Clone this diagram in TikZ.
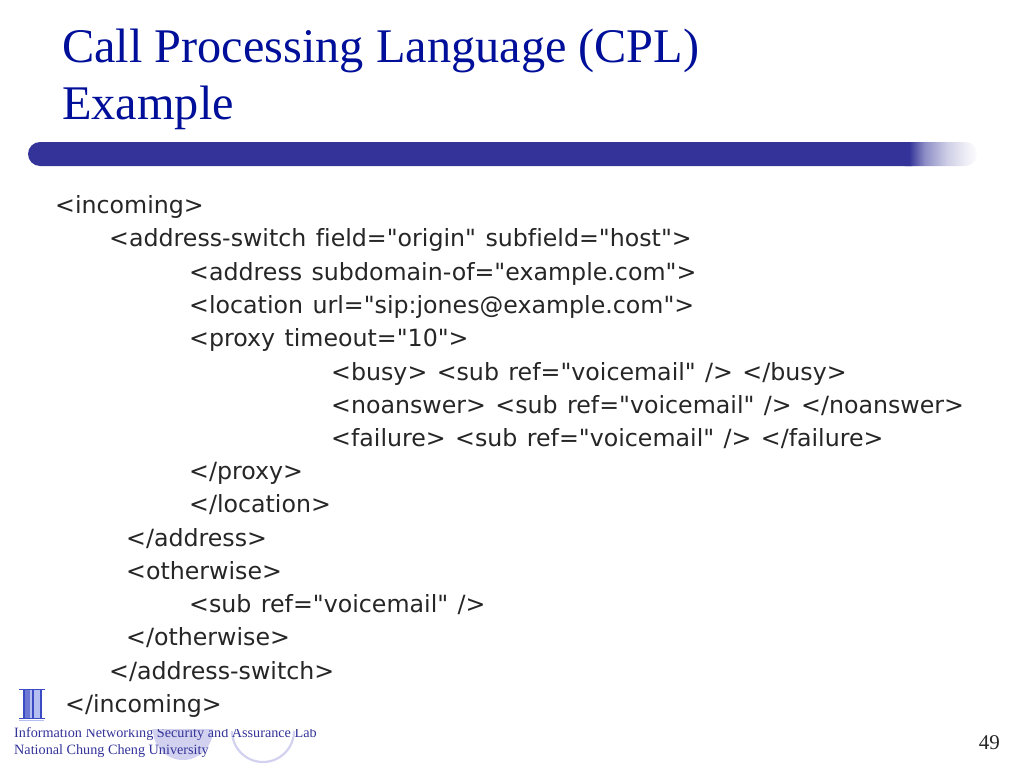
\documentclass[tikz,border=0pt]{standalone}
\usepackage{fontspec}
\setmainfont{Liberation Serif}
\newfontfamily\bodyfont[WordSpace=1.25,Ligatures=NoCommon]{DejaVu Sans}
\definecolor{titleblue}{HTML}{000F99}
\definecolor{barblue}{HTML}{333399}
\definecolor{bodygray}{HTML}{262626}
\definecolor{ringblue}{HTML}{D2D2F0}
\definecolor{logoblue}{HTML}{3B4BC4}
\definecolor{logolight}{HTML}{B4BEF0}
\pgfdeclarehorizontalshading{barfadeshade}{100bp}{
  color(0bp)=(barblue);
  color(37bp)=(barblue);
  color(45bp)=(barblue!55);
  color(56bp)=(barblue!24);
  color(65bp)=(barblue!9);
  color(72bp)=(white);
  color(100bp)=(white)}
\tikzset{
  titletext/.style={anchor=base west,inner sep=0pt,text=titleblue,font=\fontsize{48.3}{48.3}\selectfont},
  codeline/.style={anchor=base west,inner sep=0pt,text=bodygray,font=\bodyfont\fontsize{23.7}{23.7}\selectfont},
  foot/.style={anchor=base west,inner sep=0pt,text=barblue,font=\fontsize{14.2}{14.2}\selectfont},
}
\begin{document}
\begin{tikzpicture}[x=1pt,y=-1pt]
\useasboundingbox (0,0) rectangle (1024,768);
\fill[white] (0,0) rectangle (1024,768);
% bar
\fill[barblue] (40,142) arc (-90:-270:12 and 12) -- (912,166) -- (912,142) -- cycle;
\begin{scope}
\clip (905,142) -- (965,142) arc (-90:90:12 and 12) -- (905,166) -- cycle;
\shade[shading=barfadeshade] (885,142) rectangle (985,166);
\end{scope}
% title
\node[titletext] (t1) at (62,63) {Call Processing Language (CPL)};
\node[titletext] (t2) at (62,119) {Example};
% logo circles
\fill[ringblue] (183,730) circle (30);
\draw[ringblue,line width=2.2pt] (232,731) arc (180:0:31 and 31);
% footer
\node[foot] (f1) at (14,737) {Information Networking Security and Assurance Lab};
\node[foot] (f2) at (14,754) {National Chung Cheng University};
\fill[white] (60,690) rectangle (325,728.5);
% code
\node[codeline] (c1) at (55,213) {<incoming>};
\node[codeline] (c2) at (109,246) {<address-switch field="origin" subfield="host">};
\node[codeline] (c3) at (189,280) {<address subdomain-of="example.com">};
\node[codeline] (c4) at (189,313) {<location url="sip:jones@example.com">};
\node[codeline] (c5) at (189,346) {<proxy timeout="10">};
\node[codeline] (c6) at (331,380) {<busy> <sub ref="voicemail" /> </busy>};
\node[codeline] (c7) at (331,413) {<noanswer> <sub ref="voicemail" /> </noanswer>};
\node[codeline] (c8) at (331,446) {<failure> <sub ref="voicemail" /> </failure>};
\node[codeline] (c9) at (189,479) {</proxy>};
\node[codeline] (c10) at (189,512) {</location>};
\node[codeline] (c11) at (126,546) {</address>};
\node[codeline] (c12) at (126,579) {<otherwise>};
\node[codeline] (c13) at (189,612) {<sub ref="voicemail" />};
\node[codeline] (c14) at (126,645) {</otherwise>};
\node[codeline] (c15) at (109,679) {</address-switch>};
\node[codeline] (c16) at (65,712) {</incoming>};
% logo
\fill[logolight] (24,690) rectangle (41,718);
\fill[logoblue!75] (24,690) rectangle (30,718);
\draw[logoblue,line width=1.4pt] (19,689.5) -- (36,689.5) (19,718.5) -- (45,718.5) (29,689.5) -- (45,689.5);
\draw[logoblue,line width=1.5pt] (24,689) -- (24,718) (33,689) -- (33,718) (41,689) -- (41,718);
\draw[logolight,line width=1pt] (19,720) -- (44,720);
\node[anchor=base east,inner sep=0pt,text=black!85,font=\fontsize{21}{21}\selectfont] (pg) at (1000,749) {49};
\end{tikzpicture}
\end{document}
